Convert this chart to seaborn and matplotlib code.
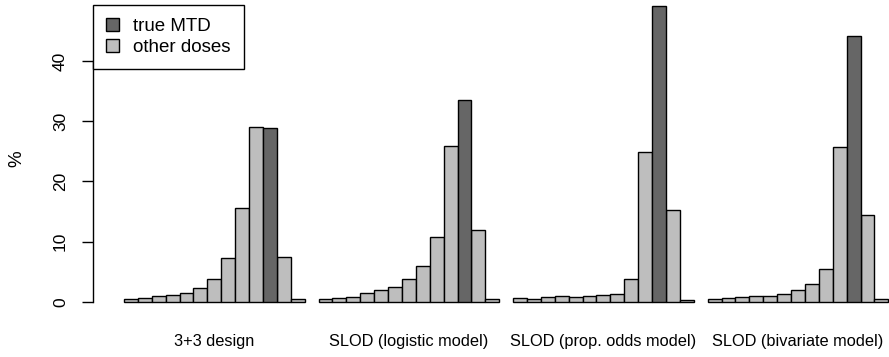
import matplotlib
matplotlib.use("Agg")
import matplotlib.pyplot as plt
import seaborn as sns
import pandas as pd
from matplotlib.patches import Patch

# percentage of trials selecting each dose level (13 doses per design)
designs = ["3+3 design", "SLOD (logistic model)", "SLOD (prop. odds model)", "SLOD (bivariate model)"]
pct_33 = [0.5, 0.7, 0.9, 1.1, 1.5, 2.3, 3.7, 7.3, 15.6, 29.0, 28.9, 7.5, 0.4]
pct_logistic = [0.5, 0.6, 0.8, 1.5, 1.9, 2.5, 3.7, 5.9, 10.8, 25.8, 33.5, 12.0, 0.4]
pct_propodds = [0.55, 0.5, 0.8, 1.0, 0.8, 0.9, 1.1, 1.3, 3.8, 24.9, 49.2, 15.2, 0.3]
pct_bivariate = [0.5, 0.6, 0.8, 1.0, 0.9, 1.3, 1.9, 3.0, 5.4, 25.7, 44.2, 14.4, 0.4]
mtd_dose = 10  # index of the true MTD

all_pct = [pct_33, pct_logistic, pct_propodds, pct_bivariate]
rows = []
for g, vals in enumerate(all_pct):
    for i, v in enumerate(vals):
        rows.append({"pos": g * 14 + i, "pct": v,
                     "kind": "true MTD" if i == mtd_dose else "other doses"})
df = pd.DataFrame(rows)

sns.set_style("white")
plt.rcParams["font.family"] = ["Liberation Sans", "DejaVu Sans"]
plt.rcParams["text.color"] = "black"
plt.rcParams["axes.labelcolor"] = "black"
plt.rcParams["xtick.color"] = "black"
plt.rcParams["ytick.color"] = "black"

dark = "#666666"
light = "#bebebe"

fig = plt.figure(figsize=(8.89, 3.57), dpi=100)
ax = fig.add_axes([93 / 889, 43.8 / 357, 796 / 889, 308.2 / 357])
sns.barplot(data=df, x="pos", y="pct", hue="kind", native_scale=True, dodge=False,
            palette={"true MTD": dark, "other doses": light}, width=1,
            edgecolor="black", linewidth=1, errorbar=None, legend=False, ax=ax)

ax.set_xlim(-2.73, 54.55)
ax.set_ylim(-1.9, 49.3)
for s in ["top", "right", "bottom"]:
    ax.spines[s].set_visible(False)
ax.spines["left"].set_bounds(0, 40)
ax.spines["left"].set_color("black")
ax.spines["left"].set_linewidth(1)

ax.set_yticks([0, 10, 20, 30, 40])
ax.tick_params(axis="y", left=True, length=8, width=1, color="black", pad=10, labelsize=12.5)
for lbl in ax.get_yticklabels():
    lbl.set_rotation(90)
    lbl.set_va("center")

ax.set_xticks([g * 14 + 6 for g in range(4)])
ax.set_xticklabels(designs, fontsize=11.8)
ax.tick_params(axis="x", bottom=False, length=0, pad=15)
ax.set_xlabel("")
ax.set_ylabel("%", fontsize=13.5, labelpad=20)

handles = [Patch(facecolor=dark, edgecolor="black", label="true MTD"),
           Patch(facecolor=light, edgecolor="black", label="other doses")]
leg = ax.legend(handles=handles, loc="upper left", bbox_to_anchor=(0, 1), borderaxespad=0,
                fancybox=False, edgecolor="black", framealpha=1, fontsize=13.5,
                borderpad=0.7, handlelength=0.7, handleheight=0.7, handletextpad=0.75,
                labelspacing=0.2)
leg.get_frame().set_linewidth(1)

fig.savefig("out.png", dpi=100)
